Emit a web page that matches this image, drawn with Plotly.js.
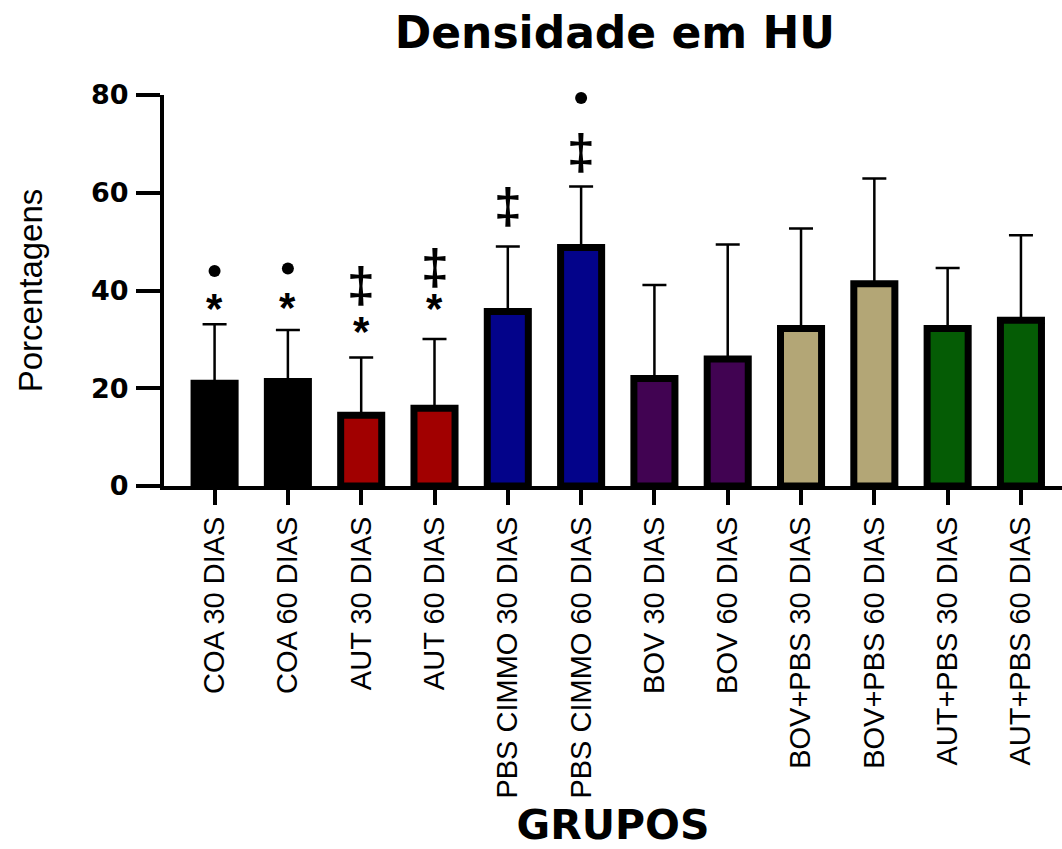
<!DOCTYPE html>
<html>
<head>
<meta charset="utf-8">
<script src="https://cdn.plot.ly/plotly-3.0.1.min.js"></script>
<style>html,body{margin:0;padding:0;background:#fff;}#chart{width:1062px;height:849px;}</style>
</head>
<body>
<div id="chart"></div>
<script>
// ---- data ----
const categories = ['COA 30 DIAS', 'COA 60 DIAS', 'AUT 30 DIAS', 'AUT 60 DIAS',
  'PBS CIMMO 30 DIAS', 'PBS CIMMO 60 DIAS', 'BOV 30 DIAS', 'BOV 60 DIAS',
  'BOV+PBS 30 DIAS', 'BOV+PBS 60 DIAS', 'AUT+PBS 30 DIAS', 'AUT+PBS 60 DIAS'];
const means = [21.0, 21.4, 14.5, 15.9, 35.7, 48.8, 22.0, 26.0, 32.2, 41.4, 32.2, 33.9];
const errorsUp = [12.1, 10.5, 11.8, 14.2, 13.3, 12.5, 19.1, 23.4, 20.5, 21.5, 12.4, 17.4];
const barColors = ['#000000', '#000000', '#a10000', '#a10000', '#03038a', '#03038a',
  '#410352', '#410352', '#b3a676', '#b3a676', '#055c05', '#055c05'];

// significance markers
const dotCats = ['COA 30 DIAS', 'COA 60 DIAS', 'PBS CIMMO 60 DIAS'];
const dotY = [44.0, 44.5, 79.4];
const starCats = ['COA 30 DIAS', 'COA 60 DIAS', 'AUT 30 DIAS', 'AUT 60 DIAS'];
const starY = [37.6, 37.7, 32.8, 37.6];
const daggerCats = ['AUT 30 DIAS', 'AUT 60 DIAS', 'PBS CIMMO 30 DIAS', 'PBS CIMMO 60 DIAS'];
const daggerY = [41.6, 45.2, 57.6, 68.7];

const yTicks = [0, 20, 40, 60, 80];

const traces = [
  {
    type: 'bar', x: categories, y: means, width: 0.56,
    marker: {color: barColors, line: {color: '#000', width: 7}},
    error_y: {type: 'data', symmetric: false, array: errorsUp, arrayminus: means.map(() => 0),
      color: '#000', thickness: 2.5, width: 12},
    hoverinfo: 'x+y'
  },
  {
    type: 'scatter', mode: 'markers', x: dotCats, y: dotY, cliponaxis: false,
    marker: {color: '#000', size: 12, symbol: 'circle'}, hoverinfo: 'skip'
  }
];

const symFont = (size) => ({family: 'Liberation Sans, Arial, sans-serif', size: size, color: '#000', weight: 'bold'});
const annotations = [];
starCats.forEach((c, i) => annotations.push({
  x: c, y: starY[i], xref: 'x', yref: 'y', text: '*', showarrow: false,
  xanchor: 'center', yanchor: 'middle', yshift: -6, font: symFont(42)
}));
daggerCats.forEach((c, i) => annotations.push({
  x: c, y: daggerY[i], xref: 'x', yref: 'y', text: '‡', showarrow: false,
  xanchor: 'center', yanchor: 'middle', yshift: -2, font: symFont(50)
}));

const layout = {
  width: 1062, height: 849,
  paper_bgcolor: '#fff', plot_bgcolor: '#fff',
  showlegend: false,
  margin: {l: 164, r: 0, t: 95, b: 363},
  annotations: annotations,
  title: {
    text: 'Densidade em HU',
    font: {family: 'DejaVu Sans, sans-serif', size: 44, color: '#000', weight: 'bold'},
    x: 0.579, xanchor: 'center', y: 0.962, yanchor: 'middle'
  },
  xaxis: {
    type: 'category', range: [-0.69, 11.56],
    showline: true, linecolor: '#000', linewidth: 4,
    ticks: 'outside', ticklen: 15, tickwidth: 4, tickcolor: '#000',
    tickangle: -90,
    tickfont: {family: 'Liberation Sans, Arial, sans-serif', size: 29, color: '#000'},
    showgrid: false, zeroline: false, fixedrange: true,
    title: {text: 'GRUPOS', standoff: 20,
      font: {family: 'DejaVu Sans, sans-serif', size: 41, color: '#000', weight: 'bold'}}
  },
  yaxis: {
    range: [0, 80], tickvals: yTicks,
    showline: true, linecolor: '#000', linewidth: 4,
    ticks: 'outside', ticklen: 24, tickwidth: 4, tickcolor: '#000',
    ticklabelstandoff: 2,
    tickfont: {family: 'DejaVu Sans, sans-serif', size: 27, color: '#000', weight: 'bold'},
    showgrid: false, zeroline: false, fixedrange: true,
    title: {text: 'Porcentagens', standoff: 39,
      font: {family: 'Liberation Sans, Arial, sans-serif', size: 33, color: '#000'}}
  }
};

Plotly.newPlot('chart', traces, layout, {displayModeBar: false, staticPlot: true});
</script>
</body>
</html>
